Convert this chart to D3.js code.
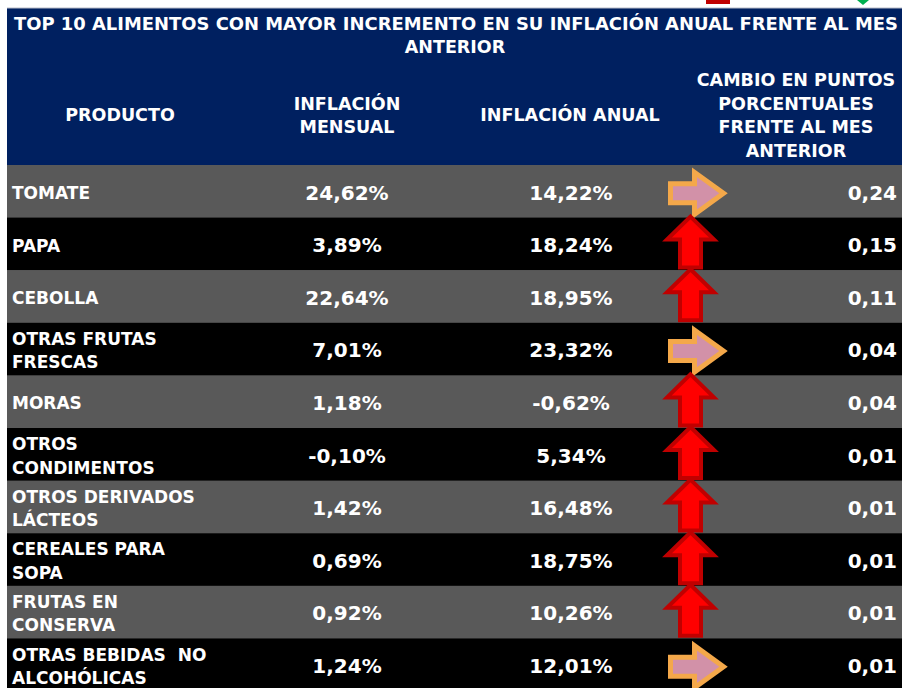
<!DOCTYPE html>
<html>
<head>
<meta charset="utf-8">
<script src="https://cdn.jsdelivr.net/npm/d3@7"></script>
<style>
  body { margin: 0; background: #fff; }
  text { font-family: "DejaVu Sans", sans-serif; font-weight: bold; fill: #fff; white-space: pre; }
</style>
</head>
<body>
<svg id="viz"></svg>
<script>
const width = 902, height = 688;

// table data
const productos = ["TOMATE", "PAPA", "CEBOLLA", "OTRAS FRUTAS\nFRESCAS", "MORAS", "OTROS\nCONDIMENTOS",
  "OTROS DERIVADOS\nLÁCTEOS", "CEREALES PARA\nSOPA", "FRUTAS EN\nCONSERVA", "OTRAS BEBIDAS  NO\nALCOHÓLICAS"];
const inflMensual = ["24,62%", "3,89%", "22,64%", "7,01%", "1,18%", "-0,10%", "1,42%", "0,69%", "0,92%", "1,24%"];
const inflAnual = ["14,22%", "18,24%", "18,95%", "23,32%", "-0,62%", "5,34%", "16,48%", "18,75%", "10,26%", "12,01%"];
const cambio = ["0,24", "0,15", "0,11", "0,04", "0,04", "0,01", "0,01", "0,01", "0,01", "0,01"];
const tendencia = ["right", "up", "up", "right", "up", "up", "up", "up", "up", "right"];
const titulo = ["TOP 10 ALIMENTOS CON MAYOR INCREMENTO EN SU INFLACIÓN ANUAL FRENTE AL MES", "ANTERIOR"];
const encabezados = [
  ["PRODUCTO"],
  ["INFLACIÓN", "MENSUAL"],
  ["INFLACIÓN ANUAL"],
  ["CAMBIO EN PUNTOS", "PORCENTUALES", "FRENTE AL MES", "ANTERIOR"]
];

const svg = d3.select("#viz").attr("width", width).attr("height", height);

const left = 7, headTop = 8, headBottom = 165, rowH = 52.6;
const y = d3.scaleBand()
  .domain(d3.range(productos.length))
  .range([headBottom, headBottom + rowH * productos.length]);

// column anchors
const colX = [12, 347, 571];
const arrowX = 690.5, cambioX = 897;

// cropped legend bits at the very top
svg.append("rect").attr("x", 706).attr("y", 0).attr("width", 24).attr("height", 4).attr("fill", "#c00000");
svg.append("path").attr("d", "M857,0 L869,0 L863,5 Z").attr("fill", "#00b050");

// header
svg.append("rect")
  .attr("x", left).attr("y", headTop)
  .attr("width", width - left).attr("height", headBottom - headTop)
  .attr("fill", "#002060");
svg.append("line")
  .attr("x1", left).attr("x2", width).attr("y1", headTop).attr("y2", headTop)
  .attr("stroke", "#b8bcc8").attr("stroke-width", 1);

svg.selectAll("text.title")
  .data(titulo)
  .enter()
  .append("text")
  .attr("class", "title")
  .attr("x", (d, i) => i === 0 ? 456 : 455)
  .attr("y", (d, i) => 30 + i * 23)
  .attr("text-anchor", "middle")
  .attr("font-size", "17.5px")
  .each(function(d, i) {
    if (i === 0) d3.select(this).attr("textLength", 884).attr("lengthAdjust", "spacingAndGlyphs");
  })
  .text(d => d);

const headCenters = [120, 347, 570, 796];
encabezados.forEach(function(lines, c) {
  const lh = 23.5;
  svg.selectAll(null)
    .data(lines)
    .enter()
    .append("text")
    .attr("x", headCenters[c])
    .attr("y", (d, i) => 115 + (i - (lines.length - 1) / 2) * lh)
    .attr("dy", "0.36em")
    .attr("text-anchor", "middle")
    .attr("font-size", "17.5px")
    .text(d => d);
});

// rows
const rows = svg.selectAll("g.row")
  .data(productos.map((p, i) => ({ i, p })))
  .enter()
  .append("g")
  .attr("class", "row")
  .attr("transform", d => `translate(0, ${y(d.i)})`);

rows.append("rect")
  .attr("x", left).attr("y", 0)
  .attr("width", width - left).attr("height", y.bandwidth() + 0.5)
  .attr("fill", d => d.i % 2 === 0 ? "#595959" : "#000000");

rows.each(function(d) {
  const g = d3.select(this);
  const lines = d.p.split("\n");
  const mid = y.bandwidth() / 2 + 1.5;
  g.selectAll("text.prod")
    .data(lines)
    .enter()
    .append("text")
    .attr("class", "prod")
    .attr("x", colX[0])
    .attr("y", (l, k) => mid + (k - (lines.length - 1) / 2) * 23.5)
    .attr("dy", "0.36em")
    .attr("font-size", "17px")
    .text(l => l);
});

rows.append("text")
  .attr("x", colX[1]).attr("y", y.bandwidth() / 2 + 1).attr("dy", "0.36em")
  .attr("text-anchor", "middle").attr("font-size", "20px")
  .text(d => inflMensual[d.i]);

rows.append("text")
  .attr("x", colX[2]).attr("y", y.bandwidth() / 2 + 1).attr("dy", "0.36em")
  .attr("text-anchor", "middle").attr("font-size", "20px")
  .text(d => inflAnual[d.i]);

rows.append("text")
  .attr("x", cambioX).attr("y", y.bandwidth() / 2 + 1).attr("dy", "0.36em")
  .attr("text-anchor", "end").attr("font-size", "20px")
  .text(d => cambio[d.i]);

// arrows, drawn last so they sit over the row fills
const rightArrow = "M-27,-9.5 L-3,-9.5 L-3,-21 L26,0 L-3,21 L-3,9.5 L-27,9.5 Z";
const upArrow = "M0,0 L23.5,23 L10.5,23 L10.5,51 L-10.5,51 L-10.5,23 L-23.5,23 Z";

svg.selectAll("path.trend")
  .data(tendencia.map((t, i) => ({ t, i })))
  .enter()
  .append("path")
  .attr("class", "trend")
  .attr("d", d => d.t === "up" ? upArrow : rightArrow)
  .attr("transform", d => d.t === "up"
    ? `translate(${arrowX}, ${y(d.i) - 1})`
    : `translate(697.5, ${y(d.i) + y.bandwidth() / 2 + 2})`)
  .attr("fill", d => d.t === "up" ? "#ff0000" : "#d291a8")
  .attr("stroke", d => d.t === "up" ? "#c00000" : "#f4a84a")
  .attr("stroke-width", d => d.t === "up" ? 4 : 5)
  .attr("stroke-linejoin", "miter");
</script>
</body>
</html>
